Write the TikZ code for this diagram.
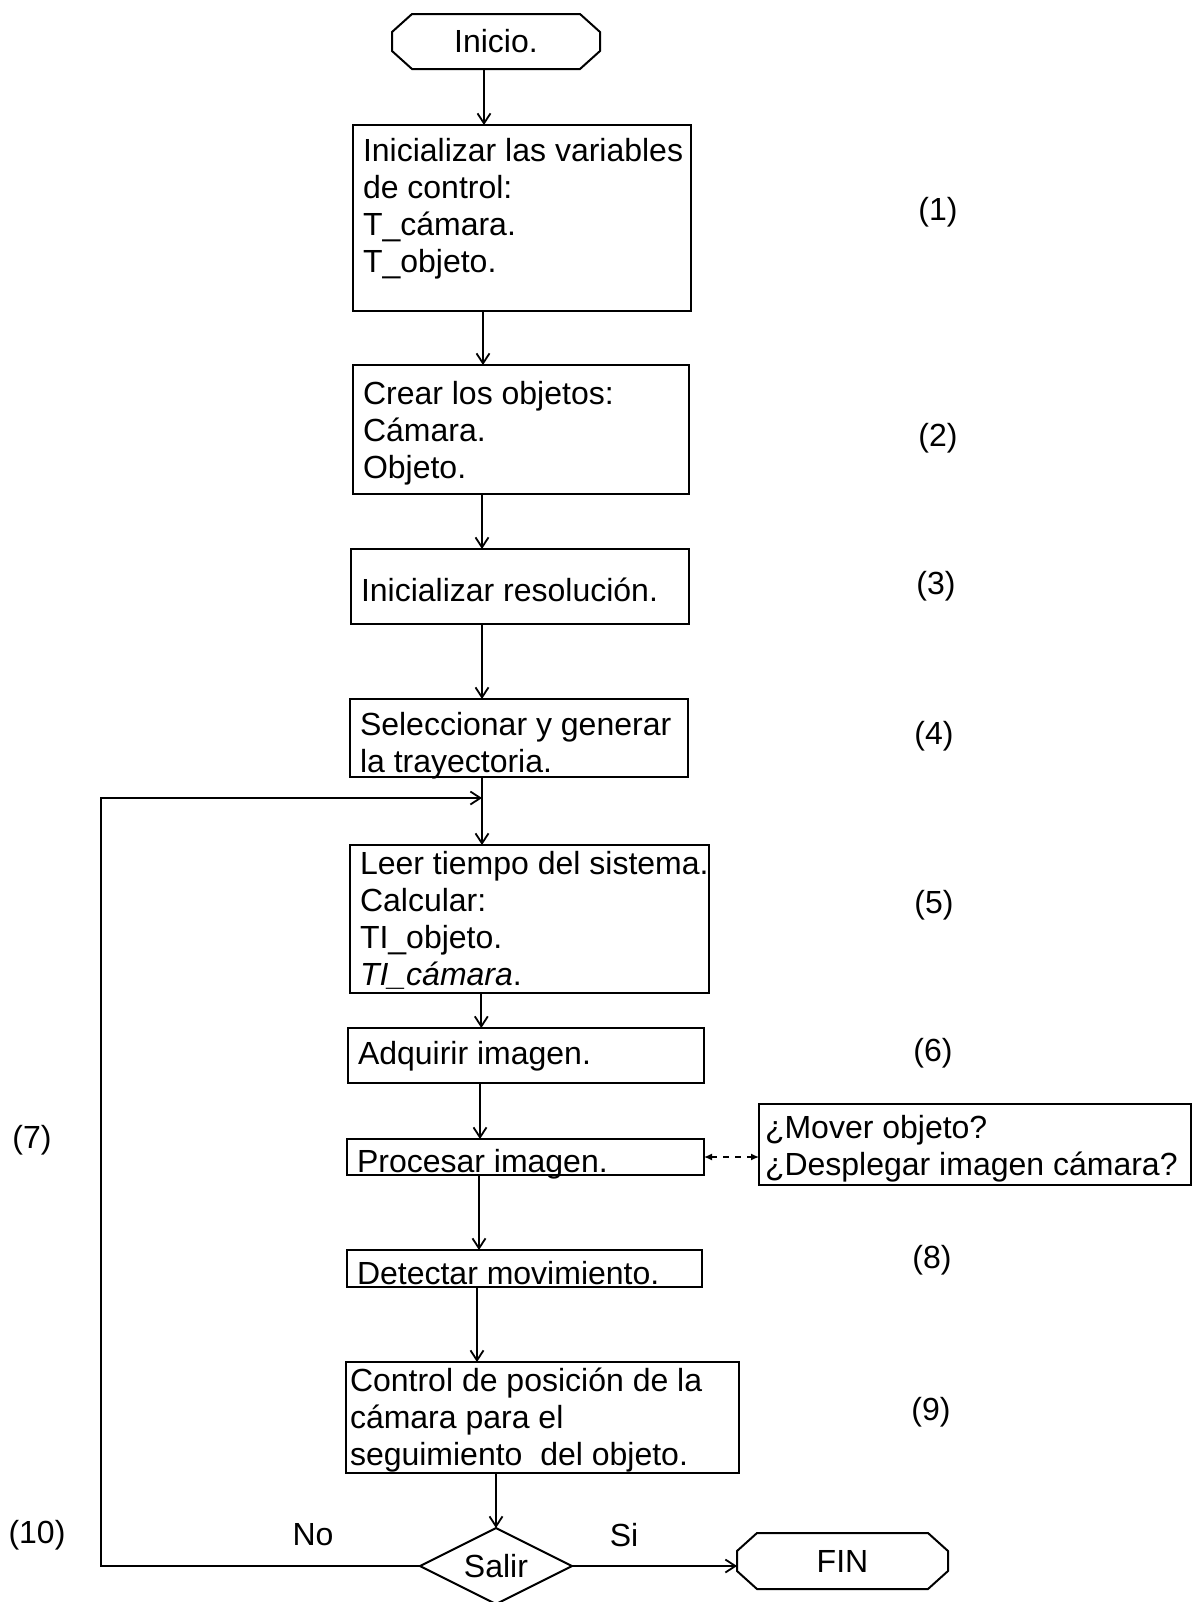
\documentclass[tikz,border=0pt]{standalone}
\usepackage{fontspec}
\setmainfont{Liberation Sans}
\usetikzlibrary{arrows.meta,shapes.geometric,calc}

% Fixed-size text block: width, height, first baseline from top, left pad (px), lines
\newcommand\pxlines[5]{%
  \vbox to \dimexpr #2pt/2\relax{%
    \hbox to \dimexpr #1pt/2\relax{}%
    \vskip\dimexpr #3pt/2-\baselineskip\relax
    \def\tline##1{\hbox{\hskip\dimexpr #4pt/2\relax ##1}}%
    #5\vfil}}

% Chamfered outline of a start/end terminal
\newcommand\termoutline[1]{%
  \draw[line width=1pt]
    ([xshift=10pt]#1.north west) -- ([xshift=-10pt]#1.north east)
    -- ([yshift=-9pt]#1.north east) -- ([yshift=9pt]#1.south east)
    -- ([xshift=-10pt]#1.south east) -- ([xshift=10pt]#1.south west)
    -- ([yshift=9pt]#1.south west) -- ([yshift=-9pt]#1.north west) -- cycle;}

\tikzset{
  box/.style={draw, line width=1.1pt, inner sep=0pt, outer sep=0pt, anchor=north west},
  term/.style={rectangle, inner sep=0pt, outer sep=0pt, minimum width=104pt, minimum height=27.5pt},
  decision/.style={diamond, draw, line width=1pt, aspect=2, inner sep=0pt, outer sep=0pt,
    minimum width=76pt, minimum height=38pt},
  arr/.style={draw, line width=0.9pt, -{Straight Barb[length=5pt,width=6.5pt]}},
  dotarr/.style={draw, line width=0.7pt, dash pattern=on 3pt off 3pt,
    {Latex[length=4pt,width=3.5pt]}-{Latex[length=4pt,width=3.5pt]}},
  lab/.style={inner sep=0pt}
}

\begin{document}
\begin{tikzpicture}[x=0.5pt, y=-0.5pt, font=\fontsize{16}{18.5}\selectfont]
\fill[white] (0,0) rectangle (1194,1602);
\useasboundingbox (0,0) rectangle (1194,1602);

% terminals
\node[term] (ini) at (496,41.5) {Inicio.};
\termoutline{ini}
\node[term, minimum width=105.5pt, minimum height=28pt] (fin) at (842.5,1561) {FIN};
\termoutline{fin}

% process boxes
\node[box] (b1) at (353,125) {\pxlines{338}{186}{36}{10}{%
  \tline{Inicializar las variables}\tline{de control:}\tline{T\_cámara.}\tline{T\_objeto.}}};
\node[box] (b2) at (353,365) {\pxlines{336}{129}{39}{10}{%
  \tline{Crear los objetos:}\tline{Cámara.}\tline{Objeto.}}};
\node[box] (b3) at (351,549) {\pxlines{338}{75}{52}{10}{%
  \tline{Inicializar resolución.}}};
\node[box] (b4) at (350,699) {\pxlines{338}{78}{36}{10}{%
  \tline{Seleccionar y generar}\tline{la trayectoria.}}};
\node[box] (b5) at (350,845) {\pxlines{356}{148}{29}{10}{%
  \tline{Leer tiempo del sistema.}\tline{Calcular:}\tline{TI\_objeto.}\tline{\textit{TI\_cámara}.}}};
\node[box] (b6) at (348,1028) {\pxlines{356}{55}{36}{10}{%
  \tline{Adquirir imagen.}}};
\node[box] (b7) at (347,1139) {\pxlines{357}{36}{33}{10}{%
  \tline{Procesar imagen.}}};
\node[box] (b8) at (347,1250) {\pxlines{355}{37}{34}{10}{%
  \tline{Detectar movimiento.}}};
\node[box] (b9) at (346,1362) {\pxlines{393}{111}{29}{4}{%
  \tline{Control de posición de la}\tline{cámara para el}\tline{seguimiento\ \ del objeto.}}};
\node[box] (side) at (759,1104) {\pxlines{432}{81}{34}{6}{%
  \tline{¿Mover objeto?}\tline{¿Desplegar imagen cámara?}}};

% decision
\node[decision] (dec) at (496,1566) {Salir};

% step numbers
\node[lab] (l1) at (938,212) {(1)};
\node[lab] (l2) at (938,438) {(2)};
\node[lab] (l3) at (936,586) {(3)};
\node[lab] (l4) at (934,736) {(4)};
\node[lab] (l5) at (934,905) {(5)};
\node[lab] (l6) at (933,1053) {(6)};
\node[lab] (l7) at (32,1140) {(7)};
\node[lab] (l8) at (932,1260) {(8)};
\node[lab] (l9) at (931,1412) {(9)};
\node[lab] (l10) at (37,1535) {(10)};
\node[lab] (no) at (313,1535) {No};
\node[lab] (si) at (624,1535) {Si};

% main flow
\draw[arr] ([xshift=-6pt]ini.south) -- ([xshift=-6pt]ini.south |- b1.north);
\draw[arr] ([xshift=-19.5pt]b1.south) -- ([xshift=-19.5pt]b1.south |- b2.north);
\draw[arr] ([xshift=-19.5pt]b2.south) -- ([xshift=-19.5pt]b2.south |- b3.north);
\draw[arr] ([xshift=-19pt]b3.south) -- ([xshift=-19pt]b3.south |- b4.north);
\draw[arr] ([xshift=-18.5pt]b4.south) -- ([xshift=-18.5pt]b4.south |- b5.north);
\draw[arr] ([xshift=-24pt]b5.south) -- ([xshift=-24pt]b5.south |- b6.north);
\draw[arr] ([xshift=-23pt]b6.south) -- ([xshift=-23pt]b6.south |- b7.north);
\draw[arr] ([xshift=-23.25pt]b7.south) -- ([xshift=-23.25pt]b7.south |- b8.north);
\draw[arr] ([xshift=-23.75pt]b8.south) -- ([xshift=-23.75pt]b8.south |- b9.north);
\draw[arr] ([xshift=-23.25pt]b9.south) -- (dec.north);

% loop back (No) and exit (Si)
\coordinate (loopin) at (482,798);
\coordinate (loopx) at (101,798);
\draw[arr] (dec.west) -| (loopx) -- (loopin);
\draw[arr] (dec.east) -- (dec.east -| fin.west);

% options link
\draw[dotarr] (b7.east) -- (b7.east -| side.west);
\end{tikzpicture}
\end{document}
